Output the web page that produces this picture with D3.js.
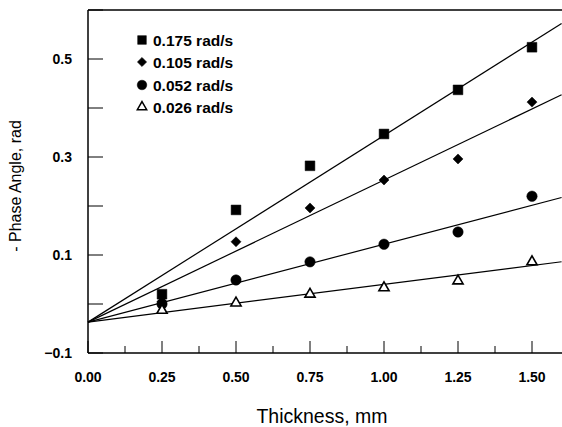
<!DOCTYPE html>
<html><head><meta charset="utf-8">
<script src="https://cdn.jsdelivr.net/npm/d3@7"></script>
<style>body{margin:0;background:#fff}svg{display:block}text{font-family:"Liberation Sans",Arial,sans-serif}</style>
</head><body>
<script>
const thickness = [0.25, 0.50, 0.75, 1.00, 1.25, 1.50];
const s175 = [0.020, 0.192, 0.282, 0.347, 0.437, 0.524];
const s105 = [0.005, 0.127, 0.196, 0.253, 0.296, 0.412];
const s052 = [0.000, 0.049, 0.086, 0.122, 0.147, 0.220];
const s026 = [-0.013, 0.002, 0.020, 0.033, 0.047, 0.086];
const fitIntercept = -0.037;
const fitSlopes = [0.381, 0.290, 0.159, 0.077];
const seriesNames = ["0.175 rad/s", "0.105 rad/s", "0.052 rad/s", "0.026 rad/s"];
const xTicks = [0, 0.25, 0.5, 0.75, 1.0, 1.25, 1.5];
const yTicks = [-0.1, 0.1, 0.3, 0.5];

const W = 562, H = 427;
const svg = d3.select("body").append("svg").attr("width", W).attr("height", H);
const x = d3.scaleLinear().domain([0, 1.6]).range([88, 561.6]);
const y = d3.scaleLinear().domain([-0.1, 0.6]).range([353, 10]);

// frame
svg.append("line").attr("x1", 88).attr("x2", 562).attr("y1", 10).attr("y2", 10).attr("stroke", "#000").attr("stroke-width", 1.5);
svg.append("line").attr("x1", 88).attr("x2", 88).attr("y1", 10).attr("y2", 353).attr("stroke", "#000").attr("stroke-width", 1.5);
svg.append("line").attr("x1", 88).attr("x2", 562).attr("y1", 353).attr("y2", 353).attr("stroke", "#000").attr("stroke-width", 1.5);

// y ticks (inside)
const yAll = d3.range(-0.1, 0.601, 0.1).map(v => +v.toFixed(2));
svg.selectAll(".yt").data(yAll).enter().append("line")
  .attr("x1", 88).attr("x2", 103).attr("y1", d => y(d)).attr("y2", d => y(d))
  .attr("stroke", "#000").attr("stroke-width", 1);
svg.selectAll(".yl").data(yTicks).enter().append("text")
  .attr("x", 72).attr("y", d => y(d) + 5).attr("text-anchor", "end")
  .attr("font-size", 14).attr("font-weight", "bold").text(d => d3.format(".1f")(d));

// x ticks (inside)
const xAll = d3.range(0, 1.6, 0.125);
svg.selectAll(".xt").data(xAll).enter().append("line")
  .attr("x1", d => x(d)).attr("x2", d => x(d)).attr("y1", 353).attr("y2", d => (Math.round(d * 8) % 2 === 0) ? 341 : 346)
  .attr("stroke", "#000").attr("stroke-width", 1);
svg.selectAll(".xl").data(xTicks).enter().append("text")
  .attr("x", d => x(d)).attr("y", 382).attr("text-anchor", "middle")
  .attr("font-size", 14).attr("font-weight", "bold").text(d => d3.format(".2f")(d));

// titles
svg.append("text").attr("x", 322).attr("y", 423).attr("text-anchor", "middle").attr("font-size", 19.5).text("Thickness, mm");
svg.append("text").attr("transform", "translate(21,186) rotate(-90)").attr("text-anchor", "middle").attr("font-size", 16).text("- Phase Angle, rad");

// fit lines
fitSlopes.forEach(m => {
  svg.append("line").attr("x1", x(0)).attr("y1", y(fitIntercept))
    .attr("x2", x(1.6)).attr("y2", y(fitIntercept + m * 1.6))
    .attr("stroke", "#000").attr("stroke-width", 1.2);
});

// markers
const sym = [
  {type: d3.symbolSquare, size: 95, fill: "#000", rot: 0},
  {type: d3.symbolSquare, size: 50, fill: "#000", rot: 45},
  {type: d3.symbolCircle, size: 85, fill: "#000", rot: 0},
  {type: d3.symbolTriangle, size: 45, fill: "#fff", rot: 0}
];
const allSeries = [s175, s105, s052, s026];
allSeries.forEach((vals, i) => {
  const g = svg.append("g");
  g.selectAll("path").data(vals).enter().append("path")
    .attr("transform", (d, j) => `translate(${x(thickness[j])},${y(d)}) rotate(${sym[i].rot})`)
    .attr("d", d3.symbol().type(sym[i].type).size(sym[i].size))
    .attr("fill", sym[i].fill).attr("stroke", "#000").attr("stroke-width", i === 3 ? 1.6 : 0.5);
});

// legend
const legY = [40, 62, 85, 107];
seriesNames.forEach((n, i) => {
  svg.append("path").attr("transform", `translate(142,${legY[i]}) rotate(${sym[i].rot})`)
    .attr("d", d3.symbol().type(sym[i].type).size(i === 0 ? 75 : sym[i].size * 0.85))
    .attr("fill", sym[i].fill).attr("stroke", "#000").attr("stroke-width", i === 3 ? 1.5 : 0.5);
  svg.append("text").attr("x", 153).attr("y", legY[i] + 6).attr("font-size", 15.5).attr("font-weight", "bold").text(n);
});
</script>
</body></html>
